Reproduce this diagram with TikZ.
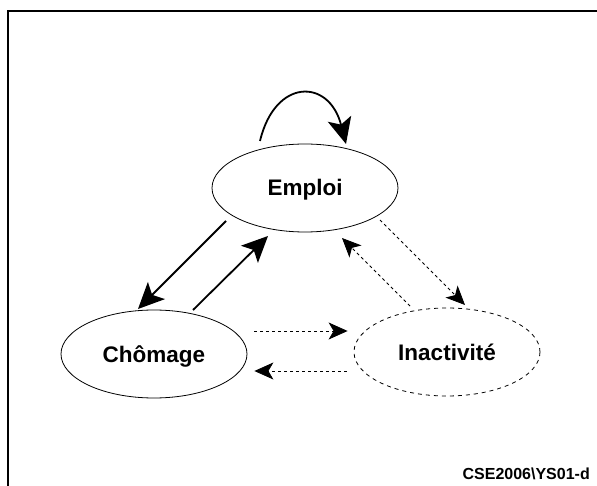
\documentclass[tikz,border=0pt]{standalone}
\usepackage{fontspec}
\setmainfont{Liberation Sans}
\usetikzlibrary{arrows.meta,shapes.geometric}
\begin{document}
\begin{tikzpicture}[x=1pt,y=-1pt,
  state/.style={draw, ellipse, line width=0.8pt, minimum width=186pt, minimum height=88pt,
    inner sep=0pt, font=\bfseries\fontsize{22.5}{27}\selectfont, text height=16pt, text depth=0pt},
  solidarr/.style={line width=1.8pt, -{Stealth[length=26pt,width=24pt,inset=6pt]}},
  dasharr/.style={line width=0.8pt, dash pattern=on 3pt off 3pt, -{Stealth[length=19pt,width=17pt,inset=5pt]}}]
\useasboundingbox (0,0) rectangle (597,486);
\draw[line width=2pt] (8,492) -- (8,11) -- (603,11);
\node[state] (emp) at (305,188) {Emploi};
\node[state] (chom) at (154,354) {Chômage};
\node[state, dash pattern=on 4pt off 4pt] (inact) at (447,352) {Inactivité};
% self loop
\draw[solidarr] ([shift={(-45pt,47pt)}]emp.center) .. controls ([shift={(-30pt,110pt)}]emp.center) and ([shift={(24pt,110pt)}]emp.center) .. ([shift={(41pt,44pt)}]emp.center);
% solid arrows
\draw[solidarr] ([shift={(-79pt,-33pt)}]emp.center) -- ([shift={(-16pt,45pt)}]chom.center);
\draw[solidarr] ([shift={(39pt,44pt)}]chom.center) -- ([shift={(-37pt,-48pt)}]emp.center);
% dashed arrows
\draw[dasharr] ([shift={(75pt,-32pt)}]emp.center) -- ([shift={(18pt,47pt)}]inact.center);
\draw[dasharr] ([shift={(-37pt,46pt)}]inact.center) -- ([shift={(37pt,-50pt)}]emp.center);
\draw[dasharr] ([shift={(7pt,23pt)}]chom.east) -- ([shift={(-6pt,21pt)}]inact.west);
\draw[dasharr] ([shift={(-7pt,-19pt)}]inact.west) -- ([shift={(7pt,-17pt)}]chom.east);
\node[anchor=base east, inner sep=0pt, font=\bfseries\fontsize{16}{19}\selectfont] (ref) at (590,479) {CSE2006\textbackslash YS01-d};
\end{tikzpicture}
\end{document}
